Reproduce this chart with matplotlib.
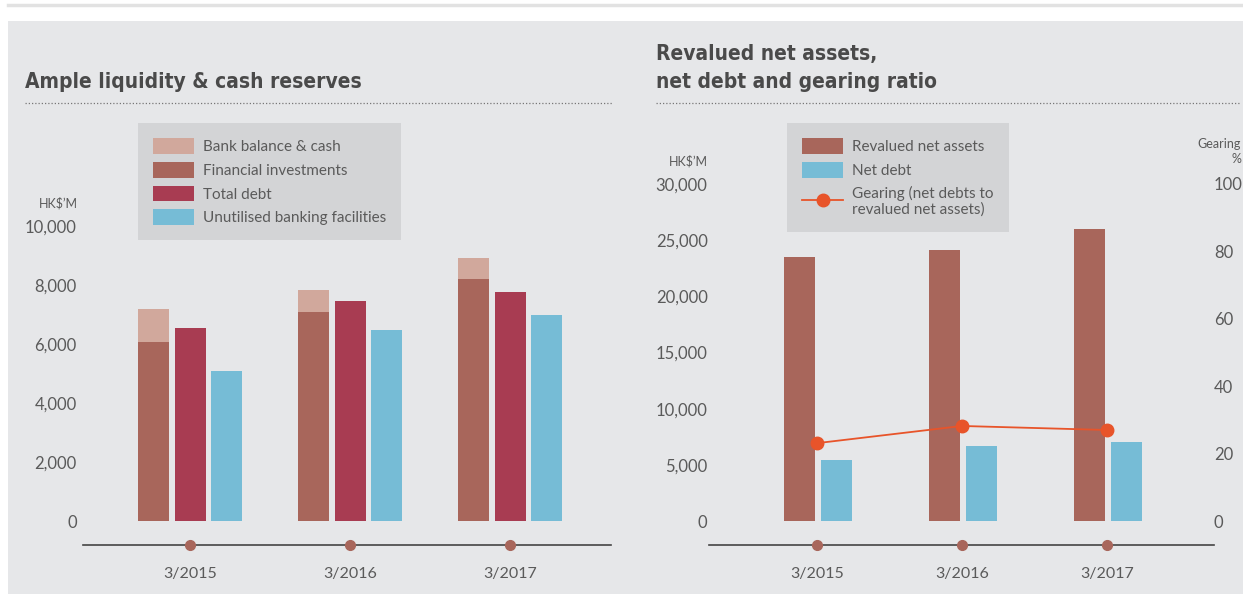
import numpy as np
import matplotlib
matplotlib.use("Agg")
import matplotlib.pyplot as plt
from matplotlib.patches import Rectangle, Patch
from matplotlib.lines import Line2D

# ---- data ----
years = ["3/2015", "3/2016", "3/2017"]
bank_cash = [1120, 750, 710]          # stacked on top of financial investments
fin_invest = [6070, 7080, 8200]
total_debt = [6540, 7460, 7760]
unutilised = [5080, 6480, 6980]

reval_assets = [23500, 24150, 26000]
net_debt = [5430, 6680, 7030]
gearing = [23.1, 28.2, 27.0]

left_ticks = [0, 2000, 4000, 6000, 8000, 10000]
right_ticks = [0, 5000, 10000, 15000, 20000, 25000, 30000]
gear_ticks = [0, 20, 40, 60, 80, 100]

# ---- style ----
W, H = 1243, 594
BG = "#e6e7e9"
LEG_BG = "#d3d4d6"
TXT = "#5a5a5a"
TITLE = "#4a4a4a"
C_BANK = "#d1a89c"
C_FIN = "#a8665b"
C_DEBT = "#a83c52"
C_UNUT = "#76bcd6"
C_GEAR = "#e8542a"
FONT = "Lato"
plt.rcParams["font.family"] = [FONT, "DejaVu Sans"]

fig = plt.figure(figsize=(W / 100, H / 100), dpi=100)
fig.patch.set_facecolor("white")


def fx(x):
    return x / W


def fy(y):
    return 1 - y / H


def px_axes(x0, y0, x1, y1):
    return fig.add_axes([fx(x0), fy(y1), (x1 - x0) / W, (y1 - y0) / H])


# background panel + top rule
fig.patches.append(Rectangle((fx(8), 0), 1, fy(21), transform=fig.transFigure,
                             facecolor=BG, edgecolor="none", zorder=-5))
fig.add_artist(Line2D([fx(8), 1], [fy(5), fy(5)], color="#e2e2e2", lw=2.5))

# titles
title_kw = dict(fontsize=15, color=TITLE, fontweight="bold", fontstretch="condensed",
                family="DejaVu Sans", va="baseline")
fig.text(fx(25), fy(88), "Ample liquidity & cash reserves", **title_kw)
fig.text(fx(656), fy(60), "Revalued net assets,", **title_kw)
fig.text(fx(656), fy(88), "net debt and gearing ratio", **title_kw)
fig.add_artist(Line2D([fx(25), fx(612)], [fy(103), fy(103)], color="#777777",
                      lw=0.9, ls=(0, (1, 1.6))))
fig.add_artist(Line2D([fx(656), fx(1240)], [fy(103), fy(103)], color="#777777",
                      lw=0.9, ls=(0, (1, 1.6))))

# ---------------- left chart ----------------
x = np.arange(len(years))
top, bot = 120, 545
k = 10000 / (521 - 226)
axL = px_axes(83, top, 611, bot)
axL.set_facecolor("none")
axL.set_xlim((83 - 190) / 160, (611 - 190) / 160)
axL.set_ylim((521 - bot) * k, (521 - top) * k)
bw = 0.194
axL.bar(x - 0.228, fin_invest, bw, color=C_FIN, zorder=2)
axL.bar(x - 0.228, bank_cash, bw, bottom=fin_invest, color=C_BANK, zorder=2)
axL.bar(x + 0.003, total_debt, bw, color=C_DEBT, zorder=2)
axL.bar(x + 0.228, unutilised, bw, color=C_UNUT, zorder=2)
axL.plot(x, [axL.get_ylim()[0]] * 3, "o", color=C_FIN, ms=7, clip_on=False, zorder=3)
axL.set_yticks(left_ticks)
axL.set_yticklabels([f"{v:,}" for v in left_ticks])
axL.set_xticks(x)
axL.set_xticklabels(years)
axL.tick_params(axis="y", length=0, pad=4.5, labelsize=12, labelcolor=TXT)
axL.tick_params(axis="x", length=0, pad=16, labelsize=11.5, labelcolor=TXT)
for s in ["top", "right", "left"]:
    axL.spines[s].set_visible(False)
axL.spines["bottom"].set_color("#444444")
axL.spines["bottom"].set_linewidth(1.2)
fig.text(fx(78), fy(203), "HK$’M", fontsize=9, color=TXT, ha="right", va="center")

leg_kw = dict(loc="upper left", fontsize=11, frameon=True, facecolor=LEG_BG,
              edgecolor="none", framealpha=1, fancybox=False, handlelength=2.65,
              handleheight=1.2, handletextpad=0.6, labelspacing=0.5, borderpad=1.0,
              borderaxespad=0, labelcolor=TXT)
legL = [Patch(facecolor=C_BANK, label="Bank balance & cash"),
        Patch(facecolor=C_FIN, label="Financial investments"),
        Patch(facecolor=C_DEBT, label="Total debt"),
        Patch(facecolor=C_UNUT, label="Unutilised banking facilities")]
fig.legend(handles=legL, bbox_to_anchor=(fx(138), fy(123)), **leg_kw)

# ---------------- right chart ----------------
kr = 30000 / (521 - 184)
axR = px_axes(709, top, 1214, bot)
axR.set_facecolor("none")
axR.set_xlim((709 - 817) / 145, (1214 - 817) / 145)
axR.set_ylim((521 - bot) * kr, (521 - top) * kr)
bwr = 0.214
axR.bar(x - 0.12, reval_assets, bwr, color=C_FIN, zorder=2)
axR.bar(x + 0.134, net_debt, bwr, color=C_UNUT, zorder=2)
axR.plot(x, [axR.get_ylim()[0]] * 3, "o", color=C_FIN, ms=7, clip_on=False, zorder=3)
axR.set_yticks(right_ticks)
axR.set_yticklabels([f"{v:,}" for v in right_ticks])
axR.set_xticks(x)
axR.set_xticklabels(years)
axR.tick_params(axis="y", length=0, pad=1, labelsize=12, labelcolor=TXT)
axR.tick_params(axis="x", length=0, pad=16, labelsize=11.5, labelcolor=TXT)
for s in ["top", "right", "left"]:
    axR.spines[s].set_visible(False)
axR.spines["bottom"].set_color("#444444")
axR.spines["bottom"].set_linewidth(1.2)

kg = 100 / (521 - 184)
axG = axR.twinx()
axG.set_ylim((521 - bot) * kg, (521 - top) * kg)
axG.plot(x, gearing, "-o", color=C_GEAR, lw=1.3, ms=9, zorder=4)
axG.set_yticks(gear_ticks)
axG.tick_params(axis="y", length=0, pad=0, labelsize=12, labelcolor=TXT)
for s in axG.spines.values():
    s.set_visible(False)

fig.text(fx(708), fy(161), "HK$’M", fontsize=9, color=TXT, ha="right", va="center")
fig.text(fx(1241), fy(144), "Gearing", fontsize=9, color=TXT, ha="right", va="center")
fig.text(fx(1241), fy(159), "%", fontsize=9, color=TXT, ha="right", va="center")

legR = [Patch(facecolor=C_FIN, label="Revalued net assets"),
        Patch(facecolor=C_UNUT, label="Net debt"),
        Line2D([], [], color=C_GEAR, marker="o", ms=9, lw=1.3,
               label="Gearing (net debts to\nrevalued net assets)")]
fig.legend(handles=legR, bbox_to_anchor=(fx(787), fy(123)), **leg_kw)

fig.savefig("out.png", dpi=100, facecolor="white")
